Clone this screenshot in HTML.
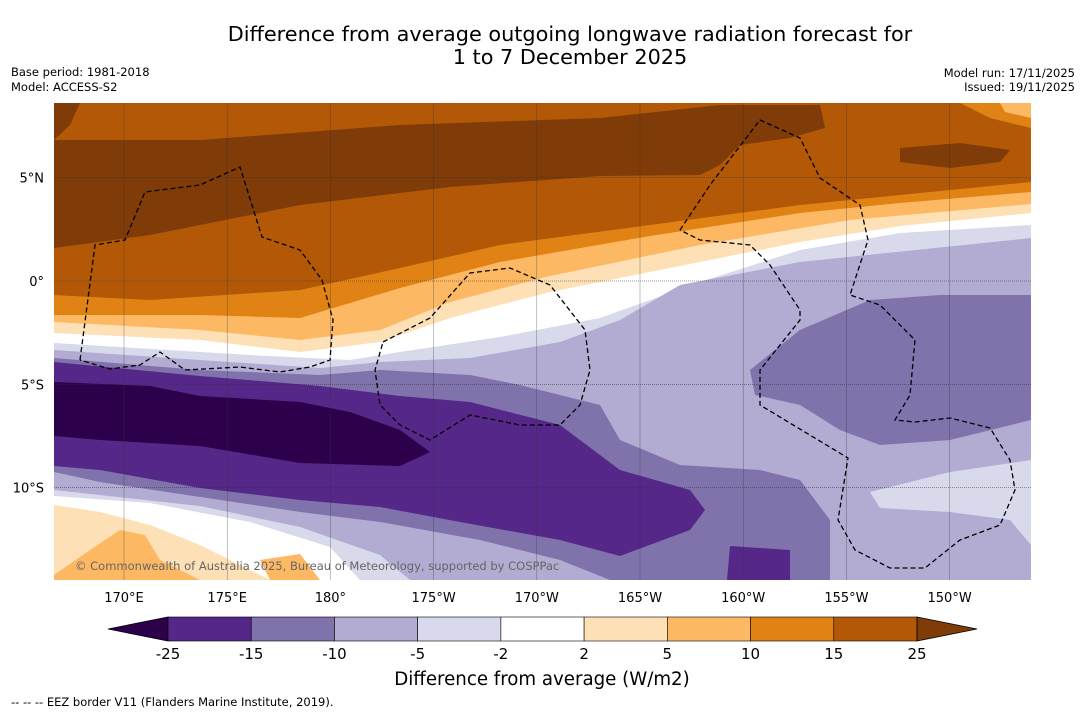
<!DOCTYPE html>
<html><head><meta charset="utf-8"><style>
body{margin:0;background:#fff;width:1085px;height:713px;overflow:hidden;font-family:"DejaVu Sans","Liberation Sans",sans-serif}
svg{position:absolute;left:0;top:0}
</style></head><body>
<svg id="s" width="1085" height="713" font-family="DejaVu Sans, Liberation Sans, sans-serif">
<text x="570" y="41" font-size="20.8" text-anchor="middle">Difference from average outgoing longwave radiation forecast for</text>
<text x="570" y="64" font-size="20.8" text-anchor="middle">1 to 7 December 2025</text>
<text x="11" y="76" font-size="11.5">Base period: 1981-2018</text>
<text x="11" y="91" font-size="11.5">Model: ACCESS-S2</text>
<text x="1075" y="77" font-size="11.5" text-anchor="end">Model run: 17/11/2025</text>
<text x="1075" y="91" font-size="11.5" text-anchor="end">Issued: 19/11/2025</text>
<defs><clipPath id="mc"><rect x="54" y="103" width="977" height="477"/></clipPath></defs>
<g id="map" clip-path="url(#mc)"></g>
<g id="axes"></g>
<g id="cbar"></g>
<text x="542" y="685" font-size="18.2" text-anchor="middle">Difference from average (W/m2)</text>
<text x="11" y="706" font-size="11.5">--  --  -- EEZ border V11 (Flanders Marine Institute, 2019).</text>
</svg>
<script>
const levels=[-25,-15,-10,-5,-2,2,5,10,15,25];
const colors=['#2d004b','#542788','#8073ac','#b2abd2','#d8daeb','#ffffff','#fee0b6','#fdb863','#e08214','#b35806','#7f3b08'];
const lonTicks=[170,175,180,185,190,195,200,205,210];
const lonLabels=['170°E','175°E','180°','175°W','170°W','165°W','160°W','155°W','150°W'];
const latTicks=[5,0,-5,-10];
const latLabels=['5°N','0°','5°S','10°S'];
const NS='http://www.w3.org/2000/svg';
const xS=lon=>124+(lon-170)*20.64;
const yS=lat=>281-lat*20.66;
function mk(t,a,p){const e=document.createElementNS(NS,t);for(const k in a)e.setAttribute(k,a[k]);p.appendChild(e);return e;}
const map=document.getElementById('map');
const shapes=[
[9,"54,103 1031,103 1031,580 54,580"],
[10,"54,103 80,103 70,125 54,140"],
[10,"54,140 200,140 400,125 600,118 720,105 820,105 825,128 790,138 740,145 720,165 700,175 600,176 450,187 300,205 150,235 54,248"],
[10,"900,148 960,143 1010,150 1000,162 950,168 900,162"],
[8,"54,295 150,300 300,290 400,268 500,245 650,225 800,205 900,195 1031,182 1031,580 54,580"],
[8,"960,103 1031,103 1031,128 990,118"],
[7,"54,315 200,315 300,318 400,288 500,262 650,236 800,213 900,203 1031,192 1031,580 54,580"],
[7,"1000,103 1031,103 1031,118 1005,112"],
[6,"54,322 200,330 300,340 380,330 450,302 550,276 700,245 850,220 1031,204 1031,580 54,580"],
[5,"54,333 200,340 300,352 380,342 450,318 550,292 650,272 800,242 900,226 1031,213 1031,580 54,580"],
[4,"54,343 250,355 350,360 400,352 500,337 600,318 700,282 800,250 900,233 1031,225 1031,580 54,580"],
[3,"54,350 200,360 320,368 380,362 470,358 560,342 620,320 680,285 800,262 1031,238 1031,580 54,580"],
[2,"54,358 200,370 320,375 380,370 470,375 520,385 600,405 620,440 680,465 760,470 800,480 830,520 830,580 610,580 560,560 480,540 380,522 300,512 200,497 100,482 54,472"],
[2,"750,370 800,330 870,300 940,295 1031,295 1031,420 950,440 880,445 840,430 800,405 755,395"],
[1,"54,362 200,376 320,386 400,396 470,402 560,425 620,470 690,490 705,510 690,530 620,556 560,540 460,522 380,507 300,500 200,488 100,470 54,466"],
[1,"730,546 790,550 790,580 727,580"],
[0,"54,382 150,386 200,396 300,402 350,412 400,430 430,452 400,466 300,463 200,446 100,440 54,436"],
[3,"54,484 200,497 300,512 380,523 430,550 450,580 54,580"],
[4,"54,490 200,506 300,527 380,555 410,580 54,580"],
[5,"54,496 150,503 250,522 330,547 360,580 54,580"],
[6,"54,505 100,512 150,525 200,545 250,570 270,580 54,580"],
[7,"54,575 90,550 120,530 145,535 160,560 200,580 54,580"],
[7,"260,560 300,554 320,580 270,580"],
[4,"870,492 950,472 1031,460 1031,545 1010,520 950,512 880,508"]
];
shapes.forEach(s=>{const p=mk('polygon',{points:s[1],fill:colors[s[0]]},map);

});
const ax=document.getElementById('axes');
lonTicks.forEach((l,i)=>{mk('line',{x1:xS(l),x2:xS(l),y1:103,y2:580,stroke:'#333','stroke-width':0.5,opacity:0.6},map);
const t=mk('text',{x:xS(l),y:602,'font-size':13,'text-anchor':'middle'},ax);t.textContent=lonLabels[i];

});
latTicks.forEach((l,i)=>{mk('line',{x1:54,x2:1031,y1:yS(l),y2:yS(l),stroke:'#333','stroke-width':0.5,'stroke-dasharray':'1,1'},map);
const t=mk('text',{x:44,y:yS(l)+5,'font-size':13,'text-anchor':'end'},ax);t.textContent=latLabels[i];

});
const eez=["80,360 95,245 125,240 145,192 200,185 240,167 262,237 300,250 322,280 333,320 330,360 310,367 280,372 240,367 185,370 160,352 140,365 110,369 80,360",
"383,342 430,318 470,273 510,268 550,285 585,330 590,370 580,405 560,425 520,425 470,415 430,440 400,425 380,405 375,370 383,342",
"680,230 710,185 760,120 800,138 820,178 860,205 868,240 850,295 880,305 915,340 910,395 895,420 915,422 950,418 990,428 1010,460 1015,490 1000,525 960,540 925,568 890,568 855,550 838,520 848,458 760,405 760,370 800,320 800,310 770,265 750,245 700,240 680,230"];
eez.forEach(p=>{const e=mk('polyline',{points:p,fill:'none',stroke:'#000','stroke-width':1.3,'stroke-dasharray':'5,3'},map);

});
const wm=mk('text',{x:75,y:570,'font-size':11.5,fill:'#666'},map);wm.textContent='© Commonwealth of Australia 2025, Bureau of Meteorology, supported by COSPPac';


const cb=document.getElementById('cbar');
const cx=i=>168+i*(917-168)/(levels.length-1);
mk('polygon',{points:`108,629 168,617 168,641`,fill:colors[0],stroke:'#000','stroke-width':0.8},cb);
for(let i=0;i<levels.length-1;i++){const r=mk('rect',{x:cx(i),y:617,width:cx(i+1)-cx(i),height:24,fill:colors[i+1],stroke:'#000','stroke-width':0.6},cb);

}
mk('polygon',{points:`917,617 977,629 917,641`,fill:colors[10],stroke:'#000','stroke-width':0.8},cb);
levels.forEach((v,i)=>{const t=mk('text',{x:cx(i),y:659,'font-size':15,'text-anchor':'middle'},cb);t.textContent=v;

});
</script>
</body></html>
